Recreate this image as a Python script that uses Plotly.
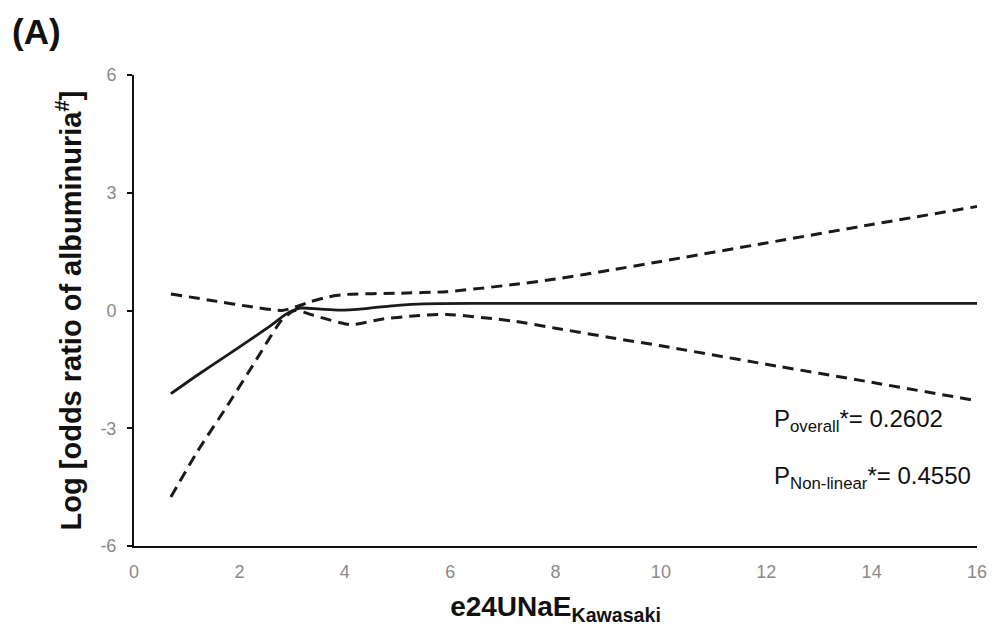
import plotly.graph_objects as go

# Estimated data
x_est = [0.7, 1.2, 1.7, 2.2, 2.6, 2.9, 3.15, 3.5, 3.9, 4.4, 5.0, 5.5, 6.5, 8.0, 10.0, 12.0, 14.0, 16.0]
y_est = [-2.12, -1.65, -1.2, -0.75, -0.38, -0.08, 0.06, 0.04, 0.01, 0.05, 0.13, 0.17, 0.18, 0.18, 0.18, 0.18, 0.18, 0.18]

x_upper = [0.7, 1.5, 2.2, 2.8, 3.05, 3.34, 3.7, 4.04, 5.0, 5.94, 7.2, 8.0, 9.09, 10.0, 12.0, 14.0, 16.0]
y_upper = [0.42, 0.25, 0.1, 0.0, 0.08, 0.22, 0.35, 0.41, 0.44, 0.48, 0.66, 0.8, 1.04, 1.25, 1.72, 2.19, 2.65]

x_lower = [0.7, 1.2, 1.76, 2.3, 2.8, 3.05, 3.4, 4.1, 4.7, 5.3, 5.94, 7.2, 8.0, 9.09, 10.0, 12.0, 14.0, 16.0]
y_lower = [-4.75, -3.6, -2.45, -1.3, -0.25, 0.0, -0.12, -0.36, -0.22, -0.14, -0.1, -0.27, -0.45, -0.7, -0.9, -1.37, -1.83, -2.3]

x_ticks = [0, 2, 4, 6, 8, 10, 12, 14, 16]
y_ticks = [-6, -3, 0, 3, 6]
y_tick_text = ["-6", "-3", "0", "3", "6"]

FONT = "Liberation Sans, Arial, sans-serif"
DASH = "11px,7px"

fig = go.Figure()
fig.add_trace(go.Scatter(x=x_upper, y=y_upper, mode="lines",
                         line=dict(color="#1a1a1a", width=3, dash=DASH, shape="spline", smoothing=0.6),
                         showlegend=False, hoverinfo="skip"))
fig.add_trace(go.Scatter(x=x_lower, y=y_lower, mode="lines",
                         line=dict(color="#1a1a1a", width=3, dash=DASH, shape="spline", smoothing=0.6),
                         showlegend=False, hoverinfo="skip"))
fig.add_trace(go.Scatter(x=x_est, y=y_est, mode="lines",
                         line=dict(color="#1a1a1a", width=2.8, shape="spline", smoothing=0.6),
                         showlegend=False, hoverinfo="skip"))

fig.update_layout(
    width=980, height=625,
    margin=dict(l=126, r=11, t=67, b=87),
    paper_bgcolor="white", plot_bgcolor="white",
    font=dict(family=FONT),
    xaxis=dict(range=[0, 16], tickvals=x_ticks, showgrid=False, zeroline=False, automargin=False,
               showline=True, linecolor="#111111", linewidth=2, ticks="",
               ticklabelstandoff=8,
               tickfont=dict(size=18, color="#8a8a8a"),
               title=dict(text="<b>e24UNaE<sub>Kawasaki</sub></b>", font=dict(size=28, color="#111111"), standoff=16)),
    yaxis=dict(range=[-6, 6], tickvals=y_ticks, ticktext=y_tick_text, showgrid=False, zeroline=False,
               automargin=False,
               showline=True, linecolor="#111111", linewidth=2, ticks="outside", ticklen=5,
               tickcolor="#111111", tickwidth=2, ticklabelstandoff=7,
               tickfont=dict(size=18, color="#8a8a8a"),
               title=dict(text="<b>Log [odds ratio of albuminuria<sup>#</sup>]</b>", font=dict(size=29, color="#111111"), standoff=10)),
)

fig.add_annotation(text="<b>(A)</b>", xref="paper", yref="paper", x=-0.147, y=1.092,
                   xanchor="left", yanchor="middle", showarrow=False,
                   font=dict(size=35, color="#111111", family=FONT))
fig.add_annotation(text="P<sub>overall</sub>*= 0.2602", x=12.1, y=-2.8, xanchor="left", yanchor="middle",
                   showarrow=False, font=dict(size=24, color="#111111", family=FONT))
fig.add_annotation(text="P<sub>Non-linear</sub>*= 0.4550", x=12.1, y=-4.25, xanchor="left", yanchor="middle",
                   showarrow=False, font=dict(size=24, color="#111111", family=FONT))

fig.write_html("out.html")
